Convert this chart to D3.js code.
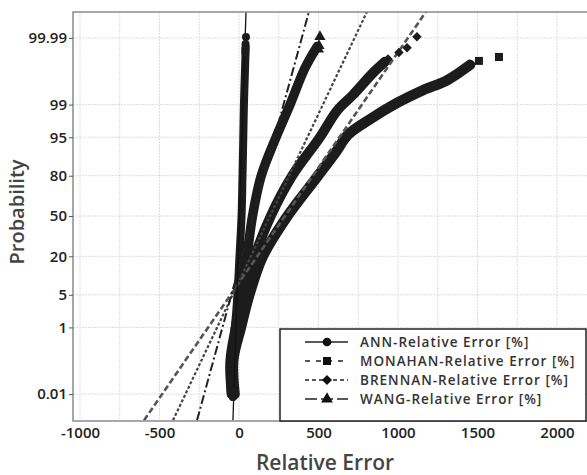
<!DOCTYPE html>
<html>
<head>
<meta charset="utf-8">
<script src="https://cdn.jsdelivr.net/npm/d3@7"></script>
<style>
  body { margin: 0; background: #fff; }
  text { font-family: "Open Sans", "Noto Sans", sans-serif; }
</style>
</head>
<body>
<div id="chart"></div>
<script>
// tick values / labels
var xTicks = [-1000, -500, 0, 500, 1000, 1500, 2000];
var xGrid = [-1000, -750, -500, -250, 0, 250, 500, 750, 1000, 1250, 1500, 1750, 2000];
var probTicks = [0.01, 1, 5, 20, 50, 80, 95, 99, 99.99];
var probLabels = ["0.01", "1", "5", "20", "50", "80", "95", "99", "99.99"];

var seriesNames = ["ANN-Relative Error [%]", "MONAHAN-Relative Error [%]", "BRENNAN-Relative Error [%]", "WANG-Relative Error [%]"];

// dense point bands: [relative error, probability %]
var annBand = [[-38, 0.008], [-45, 0.03], [-48, 0.135], [-35, 0.5], [-22, 1.5], [-10, 5], [3, 20], [16, 50], [22, 80], [27, 95], [31, 99], [38, 99.9], [42, 99.98]];
var monahanBand = [[-28, 0.01], [-36, 0.135], [12, 1], [65, 5], [150, 20], [305, 50], [497, 80], [610, 91], [685, 95.5], [830, 97.9], [994, 99.09], [1157, 99.57], [1308, 99.77], [1453, 99.92]];
var brennanBand = [[-44, 0.01], [-50, 0.135], [-8, 1], [40, 5], [100, 20], [200, 50], [335, 80], [509, 95], [616, 98.6], [717, 99.43], [843, 99.86], [918, 99.936]];
var wangBand = [[-48, 0.01], [-55, 0.135], [-22, 1], [15, 5], [50, 20], [85, 50], [140, 80], [233, 95], [321, 99], [415, 99.9], [492, 99.98]];

// separate end markers
var annPts = [[44, 99.9908], [41, 99.9837], [40, 99.976], [40, 99.968], [-38, 0.0078], [-44, 0.012], [-31, 0.012]];
var monahanPts = [[1509, 99.94], [1635, 99.955]];
var brennanPts = [[937, 99.948], [1006, 99.968], [1057, 99.978], [1119, 99.991]];
var wangPts = [[509, 99.991], [503, 99.981], [499, 99.975]];

// fitted lines, two ends each: [relative error, probability %]
var annFit = [[-38, 0.001], [44, 99.999]];
var monahanFit = [[-597, 0.001], [1176, 99.999]];
var brennanFit = [[-415, 0.001], [805, 99.999]];
var wangFit = [[-264, 0.001], [440, 99.999]];

// inverse normal cdf (Acklam) for the probability axis
function probit(p) {
  var a = [-39.69683028665376, 220.9460984245205, -275.9285104469687, 138.3577518672690, -30.66479806614716, 2.506628277459239];
  var b = [-54.47609879822406, 161.5858368580409, -155.6989798598866, 66.80131188771972, -13.28068155288572];
  var c = [-0.007784894002430293, -0.3223964580411365, -2.400758277161838, -2.549732539343734, 4.374664141464968, 2.938163982698783];
  var d = [0.007784695709041462, 0.3224671290700398, 2.445134137142996, 3.754408661907416];
  var pl = 0.02425, q, r;
  if (p < pl) {
    q = Math.sqrt(-2 * Math.log(p));
    return (((((c[0]*q+c[1])*q+c[2])*q+c[3])*q+c[4])*q+c[5]) / ((((d[0]*q+d[1])*q+d[2])*q+d[3])*q+1);
  }
  if (p > 1 - pl) {
    q = Math.sqrt(-2 * Math.log(1 - p));
    return -(((((c[0]*q+c[1])*q+c[2])*q+c[3])*q+c[4])*q+c[5]) / ((((d[0]*q+d[1])*q+d[2])*q+d[3])*q+1);
  }
  q = p - 0.5; r = q * q;
  return (((((a[0]*r+a[1])*r+a[2])*r+a[3])*r+a[4])*r+a[5])*q / (((((b[0]*r+b[1])*r+b[2])*r+b[3])*r+b[4])*r+1);
}

var width = 587, height = 475;
var plot = { left: 73, top: 12, right: 600, bottom: 421 };

var svg = d3.select("#chart").append("svg")
  .attr("width", width)
  .attr("height", height);

var x = d3.scaleLinear().domain([-1000, 2000]).range([80, 557]);
var yz = d3.scaleLinear().domain([-4.28, 4.26]).range([plot.bottom, plot.top]);
var y = function(p) { return yz(probit(p / 100)); };

svg.append("clipPath").attr("id", "clip")
  .append("rect")
  .attr("x", plot.left).attr("y", plot.top)
  .attr("width", plot.right - plot.left).attr("height", plot.bottom - plot.top);

// grid
var grid = svg.append("g").attr("stroke", "#dcdcdc").attr("stroke-width", 1).attr("stroke-dasharray", "2,1");
grid.selectAll("line.v").data(xGrid).enter().append("line")
  .attr("x1", d => x(d)).attr("x2", d => x(d))
  .attr("y1", plot.top).attr("y2", plot.bottom);
grid.selectAll("line.h").data(probTicks).enter().append("line")
  .attr("x1", plot.left).attr("x2", plot.right)
  .attr("y1", d => y(d)).attr("y2", d => y(d));

var g = svg.append("g").attr("clip-path", "url(#clip)");

var band = d3.line()
  .x(d => x(d[0]))
  .y(d => y(d[1]))
  .curve(d3.curveCatmullRom.alpha(0.5));

var bandColor = "#1c1c1c";
[[annBand, 8], [wangBand, 9.5], [brennanBand, 10], [monahanBand, 10.5]].forEach(function(s) {
  g.append("path")
    .datum(s[0])
    .attr("d", band)
    .attr("fill", "none")
    .attr("stroke", bandColor)
    .attr("stroke-width", s[1])
    .attr("stroke-linejoin", "round")
    .attr("stroke-linecap", "round");
});

// fitted lines
var fitLine = d3.line().x(d => x(d[0])).y(d => y(d[1]));
var fits = [
  { data: monahanFit, dash: "6,3", color: "#555", w: 2.6 },
  { data: brennanFit, dash: "3,2", color: "#444", w: 2.2 },
  { data: wangFit, dash: "9,3,2,3", color: "#222", w: 2 },
  { data: annFit, dash: null, color: "#111", w: 1.3 }
];
fits.forEach(function(f) {
  g.append("path")
    .datum(f.data)
    .attr("d", fitLine)
    .attr("fill", "none")
    .attr("stroke", f.color)
    .attr("stroke-width", f.w)
    .attr("stroke-dasharray", f.dash);
});

// end markers (diamond = square turned 45deg)
function marks(data, type, size, rot) {
  g.selectAll(null).data(data).enter().append("path")
    .attr("transform", d => "translate(" + x(d[0]) + "," + y(d[1]) + ") rotate(" + (rot || 0) + ")")
    .attr("d", d3.symbol().type(type).size(size))
    .attr("fill", bandColor);
}
marks(annPts, d3.symbolCircle, 50);
marks(monahanPts, d3.symbolSquare, 64);
marks(brennanPts, d3.symbolSquare, 45, 45);
marks(wangPts, d3.symbolTriangle, 55);

// frame
svg.append("rect")
  .attr("x", plot.left).attr("y", plot.top)
  .attr("width", plot.right - plot.left).attr("height", plot.bottom - plot.top)
  .attr("fill", "none")
  .attr("stroke", "#8a8a8a")
  .attr("stroke-width", 1.5);

// axes
var yAxis = svg.append("g")
  .attr("transform", "translate(" + plot.left + ",0)")
  .call(d3.axisLeft(yz)
    .tickValues(probTicks.map(p => probit(p / 100)))
    .tickFormat((d, i) => probLabels[i])
    .tickSize(4).tickPadding(2));
yAxis.select(".domain").remove();
yAxis.selectAll(".tick line").attr("stroke", "#555");
yAxis.selectAll("text").attr("font-size", 15).attr("font-weight", 600).attr("fill", "#222").attr("font-family", "Open Sans");

var xAxis = svg.append("g")
  .attr("transform", "translate(0," + plot.bottom + ")")
  .call(d3.axisBottom(x).tickValues(xTicks).tickFormat(d => String(d)).tickSize(0).tickPadding(6));
xAxis.select(".domain").remove();
xAxis.selectAll("text").attr("font-size", 15).attr("font-weight", 600).attr("fill", "#222").attr("font-family", "Open Sans");

// axis titles
svg.append("text")
  .attr("x", 325).attr("y", 470)
  .attr("text-anchor", "middle")
  .attr("font-size", 21)
  .attr("font-weight", 600)
  .attr("fill", "#444")
  .text("Relative Error");

svg.append("text")
  .attr("transform", "translate(24,212) rotate(-90)")
  .attr("text-anchor", "middle")
  .attr("font-size", 20)
  .attr("font-weight", 600)
  .attr("fill", "#444")
  .text("Probability");

// legend
var leg = svg.append("g");
leg.append("rect")
  .attr("x", 280).attr("y", 329)
  .attr("width", 306).attr("height", 92)
  .attr("fill", "#fff")
  .attr("stroke", "#222")
  .attr("stroke-width", 1.5);

var legStyles = [
  { dash: null, type: d3.symbolCircle, size: 60, rot: 0 },
  { dash: "5,6", type: d3.symbolSquare, size: 64, rot: 0 },
  { dash: "4,3", type: d3.symbolSquare, size: 50, rot: 45 },
  { dash: "12,4", type: d3.symbolTriangle, size: 60, rot: 0 }
];
var rows = leg.selectAll("g.row").data(seriesNames).enter().append("g")
  .attr("transform", (d, i) => "translate(0," + (342 + i * 19) + ")");
rows.append("line")
  .attr("x1", 305).attr("x2", 348)
  .attr("stroke", "#222").attr("stroke-width", 1.5)
  .attr("stroke-dasharray", (d, i) => legStyles[i].dash);
rows.append("path")
  .attr("transform", (d, i) => "translate(327,0) rotate(" + legStyles[i].rot + ")")
  .attr("d", (d, i) => d3.symbol().type(legStyles[i].type).size(legStyles[i].size)())
  .attr("fill", "#111");
rows.append("text")
  .attr("x", 360).attr("y", 5)
  .attr("font-size", 13.5)
  .attr("font-weight", 600)
  .attr("letter-spacing", 1)
  .attr("fill", "#333")
  .text(d => d);
</script>
</body>
</html>
